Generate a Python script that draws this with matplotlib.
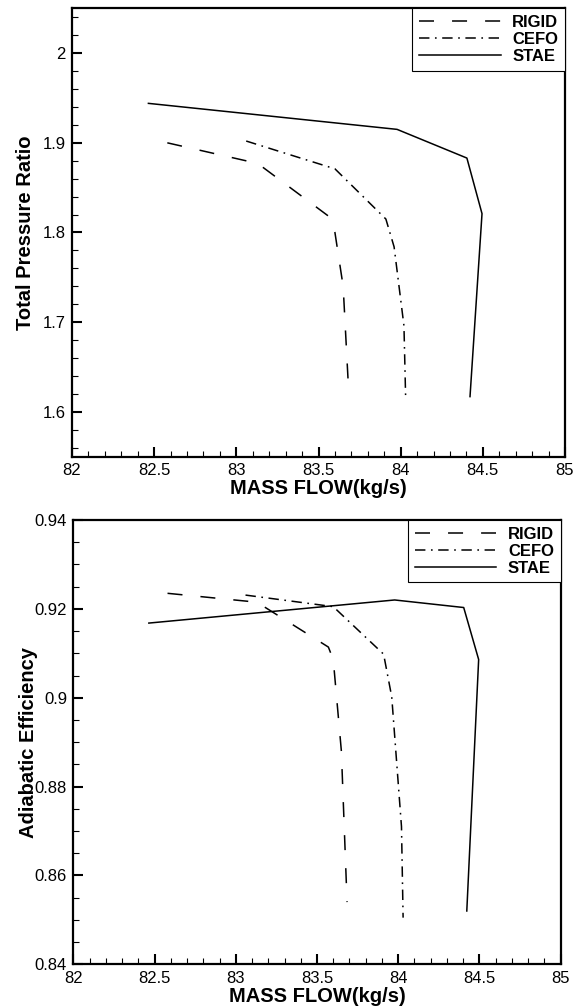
import matplotlib
matplotlib.use("Agg")
import matplotlib.pyplot as plt
from matplotlib.ticker import MultipleLocator, FuncFormatter

plt.rcParams['font.family'] = ['Liberation Sans', 'DejaVu Sans']
plt.rcParams['lines.scale_dashes'] = False

# mass flow (kg/s) and the two performance curves
rigid_mf = [82.58, 83.13, 83.57, 83.60, 83.65, 83.685]
rigid_pr = [1.900, 1.877, 1.817, 1.800, 1.740, 1.618]
rigid_eff = [0.9235, 0.9215, 0.9114, 0.9086, 0.888, 0.854]

cefo_mf = [83.06, 83.60, 83.91, 83.96, 84.02, 84.03]
cefo_pr = [1.902, 1.871, 1.815, 1.784, 1.696, 1.618]
cefo_eff = [0.9231, 0.9205, 0.9098, 0.9002, 0.871, 0.8505]

stae_mf = [82.465, 83.978, 84.403, 84.495, 84.422]
stae_pr = [1.944, 1.915, 1.883, 1.821, 1.617]
stae_eff = [0.9168, 0.9220, 0.9203, 0.9086, 0.852]

names = ['RIGID', 'CEFO', 'STAE']
dash_rigid = (0, (10.8, 13))
dash_cefo = (0, (7.5, 4, 1.2, 4))

fmt = FuncFormatter(lambda v, p: '%g' % round(v, 4))


def panel(ax, pr_or_eff, ylim, ymaj, ymin, ylabel, ylab_x):
    r, c, s = pr_or_eff
    ax.plot(rigid_mf, r, color='k', lw=1.1, linestyle=dash_rigid, label=names[0])
    ax.plot(cefo_mf, c, color='k', lw=1.1, linestyle=dash_cefo, label=names[1])
    ax.plot(stae_mf, s, color='k', lw=1.1, linestyle='-', label=names[2])
    ax.set_xlim(82, 85)
    ax.set_ylim(*ylim)
    ax.xaxis.set_major_locator(MultipleLocator(0.5))
    ax.xaxis.set_minor_locator(MultipleLocator(0.1))
    ax.yaxis.set_major_locator(MultipleLocator(ymaj))
    ax.yaxis.set_minor_locator(MultipleLocator(ymin))
    ax.xaxis.set_major_formatter(fmt)
    ax.yaxis.set_major_formatter(fmt)
    ax.tick_params(which='both', direction='in', top=False, right=False,
                   labelsize=12, pad=4.5)
    ax.tick_params(which='major', length=7, width=1.5)
    ax.tick_params(which='minor', length=4.3, width=0.8)
    for sp in ax.spines.values():
        sp.set_linewidth(1.6)
    ax.set_xlabel('MASS FLOW(kg/s)', fontsize=14.5, fontweight='bold', va='center')
    ax.xaxis.set_label_coords(0.5, -0.072)
    ax.set_ylabel(ylabel, fontsize=14.5, fontweight='bold', va='center')
    ax.yaxis.set_label_coords(ylab_x, 0.5)
    leg = ax.legend(loc='upper right', borderaxespad=0, fancybox=False,
                    framealpha=1, edgecolor='k', handlelength=4.9,
                    handletextpad=0.7, borderpad=0.4, labelspacing=0.12,
                    prop={'size': 12, 'weight': 'bold'})
    leg.get_frame().set_linewidth(0.8)


fig = plt.figure(figsize=(5.84, 10.07), dpi=100)
ax1 = fig.add_axes([72 / 584, 1 - 456.7 / 1007, 493 / 584, 448.4 / 1007])
ax2 = fig.add_axes([73.3 / 584, 1 - 964.3 / 1007, 487.4 / 584, 444.3 / 1007])

panel(ax1, (rigid_pr, cefo_pr, stae_pr), (1.55, 2.05), 0.1, 0.02,
      'Total Pressure Ratio', -0.095)
panel(ax2, (rigid_eff, cefo_eff, stae_eff), (0.84, 0.94), 0.02, 0.005,
      'Adiabatic Efficiency', -0.092)

fig.savefig('out.png', dpi=100)
